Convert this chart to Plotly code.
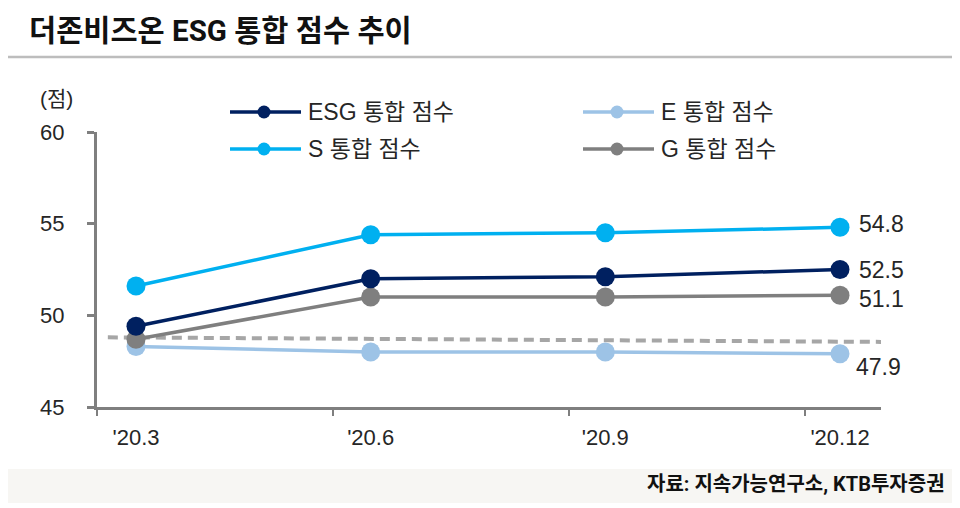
import plotly.graph_objects as go

# ---------------- data ----------------
categories = ["'20.3", "'20.6", "'20.9", "'20.12"]
series_names = ["ESG 통합 점수", "E 통합 점수", "S 통합 점수", "G 통합 점수"]
esg_values = [49.4, 52.0, 52.1, 52.5]
e_values = [48.3, 48.0, 48.0, 47.9]
s_values = [51.6, 54.4, 54.5, 54.8]
g_values = [48.7, 51.0, 51.0, 51.1]
avg_x = [-0.12, 3.2]
avg_y = [48.8, 48.55]
avg_label = "평균"
y_ticks = [45, 50, 55, 60]
y_unit = "(점)"
title_text = "더존비즈온 ESG 통합 점수 추이"
source_text = "자료: 지속가능연구소, KTB투자증권"

colors = {"ESG": "#002060", "E": "#9dc3e6", "S": "#00b0f0", "G": "#7f7f7f"}

# page body has an 8px margin -> draw a 952x500 figure, offset all pixel positions
OX, OY = 8, 8
W, H = 960 - OX, 508 - OY
FONT = "Liberation Sans, Noto Sans CJK KR, sans-serif"
KFONT = "Noto Sans CJK KR, sans-serif"
TFONT = "Roboto, Noto Sans CJK KR, sans-serif"


def px(x):
    return (x - OX) / W


def py(y):
    return 1 - (y - OY) / H


xs = list(range(len(categories)))
series = [
    ("ESG", series_names[0], esg_values),
    ("E", series_names[1], e_values),
    ("S", series_names[2], s_values),
    ("G", series_names[3], g_values),
]

fig = go.Figure()

# average dashed line
fig.add_trace(go.Scatter(
    x=avg_x, y=avg_y, mode="lines",
    line=dict(color="#a6a6a6", width=4, dash="10px,6px"),
    showlegend=False, hoverinfo="skip"))

# draw order: E, G, ESG, S
for key in ["E", "G", "ESG", "S"]:
    name, vals = [(n, v) for k, n, v in series if k == key][0]
    fig.add_trace(go.Scatter(
        x=xs, y=vals, mode="lines+markers", name=name,
        line=dict(color=colors[key], width=3.5),
        marker=dict(color=colors[key], size=19),
        showlegend=False, cliponaxis=False))

# end labels
label_shift = {"S": 3, "ESG": 0, "G": -4, "E": -13}
for key, name, vals in series:
    fig.add_annotation(
        x=xs[-1], y=vals[-1], xref="x", yref="y",
        text=f"{vals[-1]:.1f}", showarrow=False,
        xanchor="left", yanchor="middle", xshift=17 if key != "E" else 14,
        yshift=label_shift[key],
        font=dict(family=FONT, size=23, color="#262626"))

# average label
fig.add_annotation(
    x=avg_x[-1], y=avg_y[-1], xref="x", yref="y", text=f"<b>{avg_label}</b>",
    showarrow=False, xanchor="left", yanchor="middle", xshift=10, yshift=1,
    font=dict(family=KFONT, size=17, color="#a6a6a6"))

# ---------------- manual legend (pixel axes covering the figure) ----------------
legend_pos = {"ESG": (230, 112), "E": (583, 112), "S": (230, 149), "G": (583, 149)}
for key, name, vals in series:
    lx, ly = legend_pos[key]
    fig.add_trace(go.Scatter(
        x=[lx, lx + 35, lx + 71], y=[ly, ly, ly], mode="lines",
        line=dict(color=colors[key], width=3.5),
        xaxis="x2", yaxis="y2", showlegend=False, hoverinfo="skip"))
    fig.add_trace(go.Scatter(
        x=[lx + 34], y=[ly], mode="markers",
        marker=dict(color=colors[key], size=13),
        xaxis="x2", yaxis="y2", showlegend=False, hoverinfo="skip"))
    fig.add_annotation(
        x=lx + 76, y=ly, xref="x2", yref="y2", text=name, showarrow=False,
        xanchor="left", yanchor="middle",
        font=dict(family=FONT, size=23, color="#262626"))

# ---------------- decorations ----------------
fig.add_shape(type="line", xref="paper", yref="paper",
              x0=0, x1=1, y0=py(57), y1=py(57),
              line=dict(color="#bdbdbd", width=2.5))
fig.add_shape(type="rect", xref="paper", yref="paper",
              x0=0, x1=1, y0=py(503), y1=py(469),
              fillcolor="#f7f6f3", line=dict(width=0), layer="below")

fig.add_annotation(x=px(27), y=py(31), xref="paper", yref="paper",
                   text=f"<b>{title_text}</b>", showarrow=False,
                   xanchor="left", yanchor="middle",
                   font=dict(family=TFONT, size=29.5, color="#111111"))
fig.add_annotation(x=px(947), y=py(484), xref="paper", yref="paper",
                   text=f"<b>{source_text}</b>", showarrow=False,
                   xanchor="right", yanchor="middle",
                   font=dict(family=TFONT, size=20, color="#111111"))
fig.add_annotation(x=px(56), y=py(99), xref="paper", yref="paper",
                   text=y_unit, showarrow=False,
                   xanchor="center", yanchor="middle",
                   font=dict(family=FONT, size=21, color="#262626"))

# ---------------- axes ----------------
px_per = (840 - 136) / 3.0
x_lo = (97 - 136) / px_per
x_hi = (881 - 136) / px_per

fig.update_layout(
    width=W, height=H, autosize=False,
    margin=dict(l=0, r=0, t=0, b=0, pad=0, autoexpand=False),
    paper_bgcolor="white", plot_bgcolor="rgba(0,0,0,0)",
    showlegend=False,
    xaxis=dict(
        domain=[px(97), px(881)], range=[x_lo, x_hi], automargin=False,
        tickvals=xs, ticktext=categories,
        ticks="outside", ticklen=9, tickcolor="rgba(0,0,0,0)",
        showgrid=False, zeroline=False,
        showline=True, linecolor="#7f7f7f", linewidth=3,
        tickfont=dict(family=FONT, size=22, color="#262626"),
        minor=dict(tick0=x_lo, dtick=1.005, ticks="outside", ticklen=6,
                   tickcolor="#7f7f7f", tickwidth=2, showgrid=False),
    ),
    yaxis=dict(
        domain=[py(407), py(132)], range=[45, 60], automargin=False,
        tickvals=y_ticks, ticks="outside", ticklen=7,
        tickcolor="#7f7f7f", tickwidth=2.5, ticklabelstandoff=18,
        showgrid=False, zeroline=False,
        showline=True, linecolor="#7f7f7f", linewidth=3,
        tickfont=dict(family=FONT, size=22, color="#262626"),
    ),
    xaxis2=dict(domain=[0, 1], range=[OX, 960], visible=False, anchor="y2",
                fixedrange=True, automargin=False),
    yaxis2=dict(domain=[0, 1], range=[508, OY], visible=False, anchor="x2",
                fixedrange=True, automargin=False),
)

fig.write_html("out.html")
